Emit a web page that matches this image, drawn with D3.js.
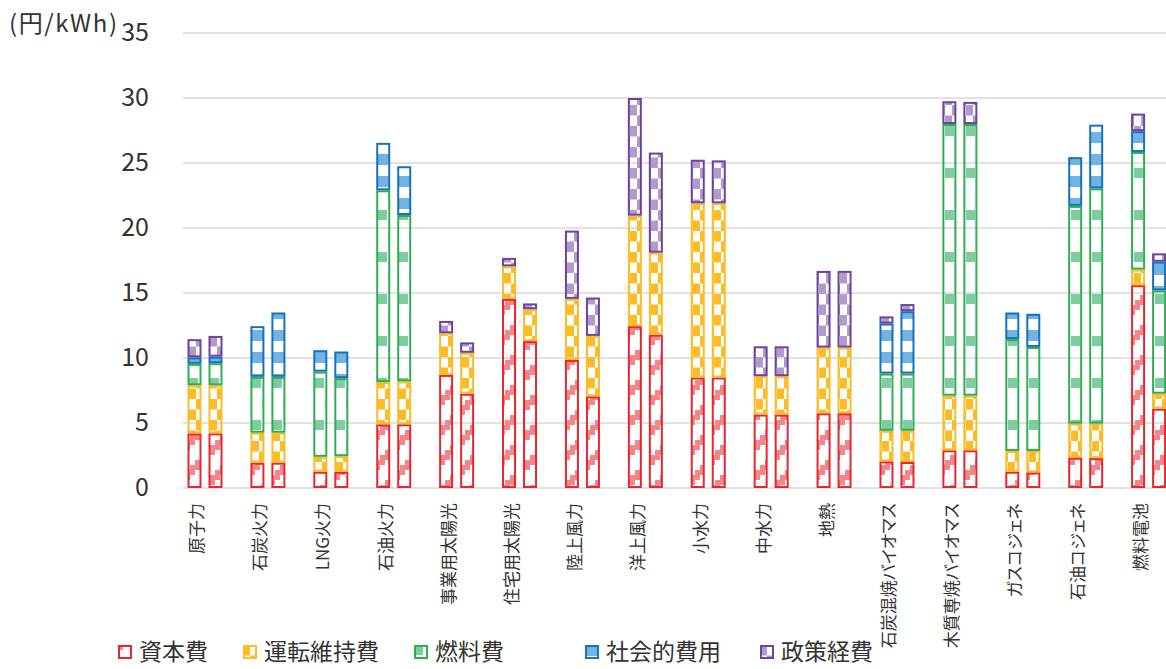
<!DOCTYPE html>
<html>
<head>
<meta charset="utf-8">
<script src="https://cdn.jsdelivr.net/npm/d3@7"></script>
<style>
  body { margin: 0; background: #fff; }
  text { font-family: "Noto Sans CJK JP", "Noto Sans", sans-serif; fill: #333; }
</style>
</head>
<body>
<svg id="chart" width="1166" height="669"></svg>
<script>
// Generation cost by source (円/kWh), 2020 and 2030 estimates
const categories = ["原子力", "石炭火力", "LNG火力", "石油火力", "事業用太陽光", "住宅用太陽光",
  "陸上風力", "洋上風力", "小水力", "中水力", "地熱", "石炭混焼バイオマス", "木質専焼バイオマス",
  "ガスコジェネ", "石油コジェネ", "燃料電池"];
const years = ["2020", "2030"];
const costItems = ["資本費", "運転維持費", "燃料費", "社会的費用", "政策経費"];

const capital2020 = [4.2, 1.95, 1.25, 4.9, 8.7, 14.55, 9.85, 12.45, 8.5, 5.65, 5.75, 2.05, 2.9, 1.25, 2.35, 15.6];
const capital2030 = [4.2, 1.95, 1.25, 4.9, 7.25, 11.3, 7.05, 11.8, 8.5, 5.65, 5.75, 2.0, 2.9, 1.2, 2.3, 6.1];
const om2020 = [3.7, 2.3, 1.15, 3.25, 3.2, 2.5, 4.7, 8.5, 13.4, 2.95, 5.05, 2.35, 4.2, 1.6, 2.6, 1.2];
const om2030 = [3.7, 2.3, 1.2, 3.3, 3.15, 2.45, 4.65, 6.3, 13.4, 2.95, 5.05, 2.4, 4.2, 1.65, 2.65, 1.15];
const fuel2020 = [1.65, 4.3, 6.55, 14.75, 0, 0, 0, 0, 0, 0, 0, 4.4, 20.9, 8.6, 16.75, 9.05];
const fuel2030 = [1.7, 4.3, 6.0, 12.8, 0, 0, 0, 0, 0, 0, 0, 4.4, 20.9, 8.0, 18.1, 7.95];
const social2020 = [0.5, 3.9, 1.65, 3.65, 0, 0, 0, 0, 0, 0, 0, 3.85, 0, 2.05, 3.75, 1.6];
const social2030 = [0.5, 4.95, 2.05, 3.75, 0, 0, 0, 0, 0, 0, 0, 4.8, 0, 2.55, 4.9, 2.2];
const policy2020 = [1.4, 0.1, 0.1, 0.15, 0.95, 0.65, 5.25, 9.05, 3.35, 2.3, 5.9, 0.55, 1.75, 0.1, 0.1, 1.35];
const policy2030 = [1.6, 0.1, 0.15, 0.15, 0.8, 0.45, 2.95, 7.7, 3.3, 2.3, 5.9, 0.55, 1.7, 0.1, 0.1, 0.65];

const yTicks = [0, 5, 10, 15, 20, 25, 30, 35];
const unitLabel = "(円/kWh)";

const itemColors = ["#e8262f", "#fbbc26", "#2eae52", "#1472bf", "#6d43a0"];
const itemFills = ["#f2868b", "#fbbc26", "#7ecda1", "#73b3e1", "#b09bc9"];

// one row per (category, year)
const seriesByYear = {
  "2020": [capital2020, om2020, fuel2020, social2020, policy2020],
  "2030": [capital2030, om2030, fuel2030, social2030, policy2030]
};
const rows = [];
categories.forEach((c, i) => {
  years.forEach(yr => {
    const r = { category: c, year: yr };
    costItems.forEach((k, j) => { r[k] = seriesByYear[yr][j][i]; });
    rows.push(r);
  });
});

const svg = d3.select("#chart");

const y = d3.scaleLinear().domain([0, 35]).range([488, 33]);
const x0 = d3.scaleBand().domain(categories).range([173.5, 1180]);
const x1 = d3.scaleBand().domain(years).range([14, 49]).paddingInner(1 / 3);

// fill patterns for each cost item
const defs = svg.append("defs");
function pattern(id, w, h) {
  return defs.append("pattern").attr("id", id).attr("patternUnits", "userSpaceOnUse")
    .attr("width", w).attr("height", h);
}
function block(p, x, yy, w, h, fill) {
  p.append("rect").attr("x", x).attr("y", yy).attr("width", w).attr("height", h).attr("fill", fill);
}
// capital: rising stair-step diagonal band
{
  const p = pattern("pat0", 30, 30);
  for (let i = 0; i < 6; i++) {
    const yy = 25 - i * 5;
    [yy, yy - 30, yy + 30].forEach(v => block(p, i * 5, v, 5, 10, itemFills[0]));
  }
}
// O&M: checkerboard
{
  const p = pattern("pat1", 14, 21);
  block(p, 0, 0, 7, 10.5, itemFills[1]);
  block(p, 7, 10.5, 7, 10.5, itemFills[1]);
}
// fuel: staggered dots
{
  const p = pattern("pat2", 21, 42);
  block(p, 0, 0, 9, 10, itemFills[2]);
  block(p, 10.5, 21, 9, 10, itemFills[2]);
}
// social: horizontal stripes
{
  const p = pattern("pat3", 10, 22);
  block(p, 0, 0, 10, 11, itemFills[3]);
}
// policy: checkerboard
{
  const p = pattern("pat4", 14, 21);
  block(p, 0, 0, 7, 10.5, itemFills[4]);
  block(p, 7, 10.5, 7, 10.5, itemFills[4]);
}

// gridlines
svg.append("g").selectAll("line").data(yTicks).join("line")
  .attr("x1", 183).attr("x2", 1166)
  .attr("y1", d => y(d)).attr("y2", d => y(d))
  .attr("stroke", "#d9d9d9").attr("stroke-width", 1.5);

// y tick labels
svg.append("g").selectAll("text").data(yTicks).join("text")
  .attr("x", 149).attr("y", d => y(d) - 1).attr("dy", "0.35em")
  .attr("text-anchor", "end").attr("font-size", 25).text(d => d);

svg.append("text").attr("x", 9).attr("y", 32).attr("font-size", 24)
  .attr("textLength", 108).attr("lengthAdjust", "spacing").text(unitLabel);

// stacked bars
const stack = d3.stack().keys(costItems);
const layers = stack(rows);
const gBars = svg.append("g");
layers.forEach((layer, li) => {
  gBars.append("g").selectAll("rect")
    .data(layer.filter(d => d[1] - d[0] > 0))
    .join("rect")
    .attr("x", d => x0(d.data.category) + x1(d.data.year) + 1)
    .attr("width", x1.bandwidth() - 2)
    .attr("y", d => y(d[1]) + 1)
    .attr("height", d => Math.max(0, y(d[0]) - y(d[1]) - 2))
    .attr("fill", `url(#pat${li})`)
    .attr("stroke", itemColors[li])
    .attr("stroke-width", 2);
});

// category labels, rotated
svg.append("g").selectAll("text").data(categories).join("text")
  .attr("transform", d => `translate(${x0(d) + x0.bandwidth() / 2 - 9},503) rotate(-90)`)
  .attr("text-anchor", "end").attr("dominant-baseline", "central")
  .attr("font-size", 17).style("font-feature-settings", "'palt'")
  .text(d => d);

// legend
const legendX = [118, 243, 414, 585, 760];
const lg = svg.append("g").selectAll("g").data(costItems).join("g")
  .attr("transform", (d, i) => `translate(${legendX[i]},645)`);
lg.append("rect").attr("x", 1).attr("y", 1).attr("width", 12).attr("height", 12)
  .attr("fill", (d, i) => `url(#pat${i})`)
  .attr("stroke", (d, i) => itemColors[i]).attr("stroke-width", 2);
lg.append("text").attr("x", 21).attr("y", 7).attr("dy", "0.35em")
  .attr("font-size", 23).text(d => d);
</script>
</body>
</html>
